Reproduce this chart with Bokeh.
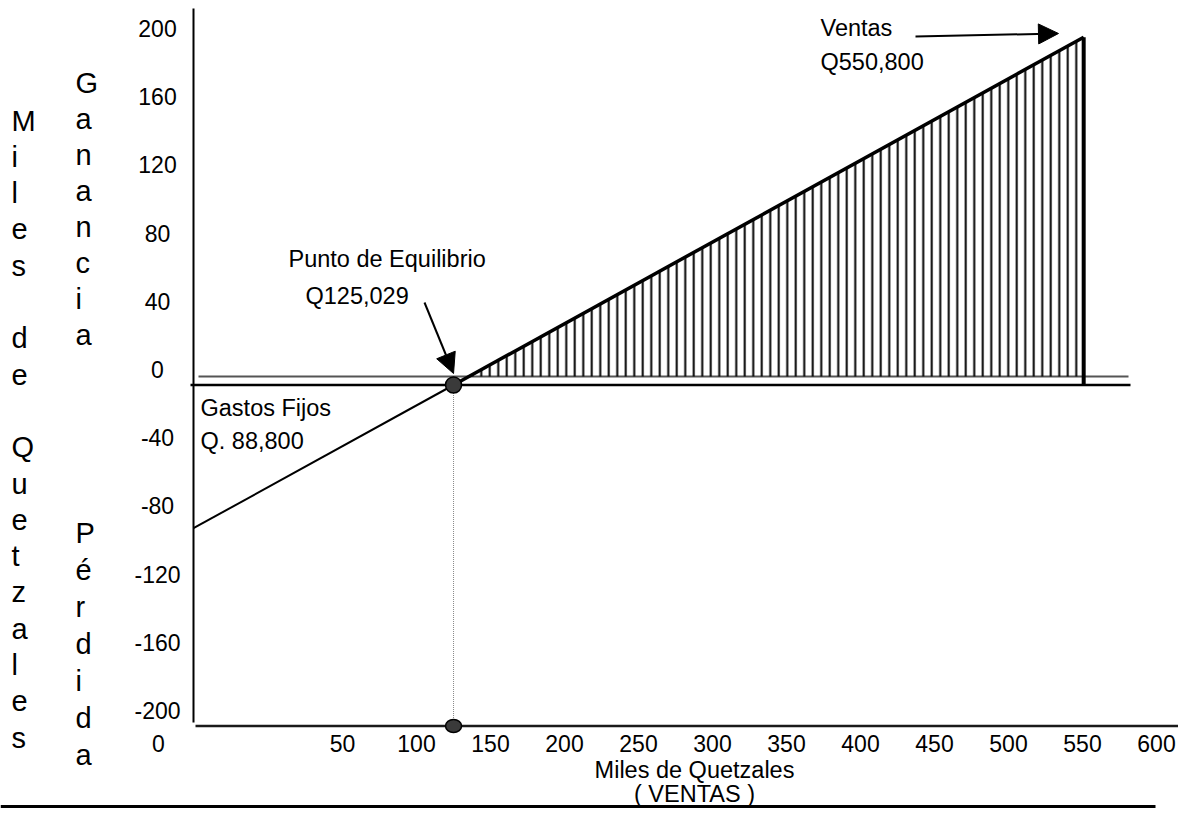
from bokeh.plotting import figure
from bokeh.models import Range1d, Arrow, NormalHead
from bokeh.core.properties import value
from bokeh.embed import file_html
from bokeh.resources import INLINE

# ---------------- data ----------------
y_tick_values = [200, 160, 120, 80, 40, 0, -40, -80, -120, -160, -200]
x_tick_values = [50, 100, 150, 200, 250, 300, 350, 400, 450, 500, 550, 600]
origin_label = "0"
breakeven_sales = 125.029          # Punto de Equilibrio
ventas_sales = 550.8               # Ventas
profit_at_axis = -84               # where the profit line meets the vertical axis
profit_at_ventas = 204             # top end of the profit line
y_bottom = -200
left_title = "Miles de Quetzales"
gain_title = "Ganancia"
loss_title = "Pérdida"
x_title = "Miles de Quetzales"
x_subtitle = "( VENTAS )"
be_labels = ["Punto de Equilibrio", "Q125,029"]
ventas_labels = ["Ventas", "Q550,800"]
fixed_labels = ["Gastos Fijos", "Q. 88,800"]

# ---------------- layout ----------------
W, H = 1178, 809
KX, X0 = 1.48, 268.0     # px per unit, pixel-x of sales 0
KY, Y0 = 1.705, 384.5    # px per unit, pixel-y of profit 0


def X(px):
    return (px - X0) / KX


def Y(py):
    return (Y0 - py) / KY


FONT = value("Liberation Sans")

p = figure(width=W, height=H,
           x_range=Range1d(X(0), X(W)), y_range=Range1d(Y(H), Y(0)),
           x_axis_type=None, y_axis_type=None,
           toolbar_location=None, output_backend="svg",
           min_border=0, outline_line_color=None,
           background_fill_color="white", border_fill_color="white")
for g in p.grid:
    g.visible = False

axis_x = X(193)
top_y = Y(8)

# vertical axis and bottom axis
p.segment(x0=[axis_x], y0=[y_bottom + 2], x1=[axis_x], y1=[top_y], line_color="black", line_width=2)
p.segment(x0=[X(195)], y0=[y_bottom], x1=[X(W)], y1=[y_bottom], line_color="#1a1a1a", line_width=2.5)

# double horizontal line at break-even level
upper_y = Y(376)
p.segment(x0=[X(190)], y0=[0], x1=[X(1130)], y1=[0], line_color="black", line_width=2.5)
p.segment(x0=[X(198)], y0=[upper_y], x1=[X(1128)], y1=[upper_y], line_color="#555555", line_width=2)

# hatched profit area
slope = profit_at_ventas / (ventas_sales - breakeven_sales)
hatch_start = breakeven_sales + upper_y / slope
p.patch(x=[hatch_start, ventas_sales, ventas_sales], y=[upper_y, profit_at_ventas, upper_y],
        fill_color=None, line_color=None,
        hatch_pattern="vertical_line", hatch_scale=8.5, hatch_weight=2, hatch_color="black")

# profit line
p.line(x=[axis_x, breakeven_sales], y=[profit_at_axis, 0], line_color="black", line_width=2)
p.line(x=[breakeven_sales, ventas_sales], y=[0, profit_at_ventas], line_color="black", line_width=3.5)
p.segment(x0=[ventas_sales], y0=[0], x1=[ventas_sales], y1=[profit_at_ventas], line_color="black", line_width=4)

# dotted drop line and break-even markers
p.segment(x0=[breakeven_sales], y0=[0], x1=[breakeven_sales], y1=[y_bottom],
          line_color="#888888", line_width=1, line_dash="1 1")
p.ellipse(x=[breakeven_sales], y=[y_bottom], width=16, height=13,
          width_units="screen", height_units="screen",
          fill_color="#3a3a3a", line_color="black", line_width=1.5)
p.scatter(x=[breakeven_sales], y=[0], size=16, marker="circle",
          fill_color="#3a3a3a", line_color="black", line_width=1.5)

# y tick labels
p.text(x=[X(157)] * len(y_tick_values), y=y_tick_values, text=[str(v) for v in y_tick_values],
       text_align="center", text_baseline="middle", y_offset=-15.5,
       text_font=FONT, text_font_size="23px", text_color="black")

# x tick labels
xl_y = Y(743)
p.text(x=x_tick_values, y=[xl_y] * len(x_tick_values), text=[str(v) for v in x_tick_values],
       text_align="center", text_baseline="middle",
       text_font=FONT, text_font_size="23px", text_color="black")
p.text(x=[X(158)], y=[xl_y], text=[origin_label], text_align="center", text_baseline="middle",
       text_font=FONT, text_font_size="23px", text_color="black")

# x titles and bottom rule
p.text(x=[X(694), X(694)], y=[Y(769), Y(793)], text=[x_title, x_subtitle],
       text_align="center", text_baseline="middle",
       text_font=FONT, text_font_size="23.5px", text_color="black")
p.segment(x0=[X(0)], y0=[Y(806)], x1=[X(1155)], y1=[Y(806)], line_color="black", line_width=3)


# vertical stacked-letter titles
def stacked(word, left_px, first_base_px, step_px):
    xs, ys, ts = [], [], []
    for i, ch in enumerate(word):
        if ch.strip():
            xs.append(X(left_px))
            ys.append(Y(first_base_px + i * step_px))
            ts.append(ch)
    p.text(x=xs, y=ys, text=ts, text_align="left", text_baseline="alphabetic",
           text_font=FONT, text_font_size="29px", text_color="black")


stacked(left_title, 11, 120, 36.3)
stacked(gain_title, 75, 82, 36.0)
stacked(loss_title, 75, 532, 37.0)

# annotations
p.text(x=[X(288), X(305)], y=[Y(258), Y(295)], text=be_labels,
       text_align="left", text_baseline="middle",
       text_font=FONT, text_font_size="23.5px", text_color="black")
p.text(x=[X(820), X(820)], y=[Y(27), Y(61)], text=ventas_labels,
       text_align="left", text_baseline="middle",
       text_font=FONT, text_font_size="23.5px", text_color="black")
p.text(x=[X(200), X(200)], y=[Y(407), Y(440)], text=fixed_labels,
       text_align="left", text_baseline="middle",
       text_font=FONT, text_font_size="23.5px", text_color="black")

p.add_layout(Arrow(end=NormalHead(size=20, fill_color="black", line_color="black"),
                   x_start=X(424), y_start=Y(302), x_end=breakeven_sales, y_end=Y(373),
                   line_color="black", line_width=2))
p.add_layout(Arrow(end=NormalHead(size=20, fill_color="black", line_color="black"),
                   x_start=X(915), y_start=Y(36), x_end=X(1058), y_end=Y(33),
                   line_color="black", line_width=2))

open("out.html", "w").write(file_html(p, INLINE))
